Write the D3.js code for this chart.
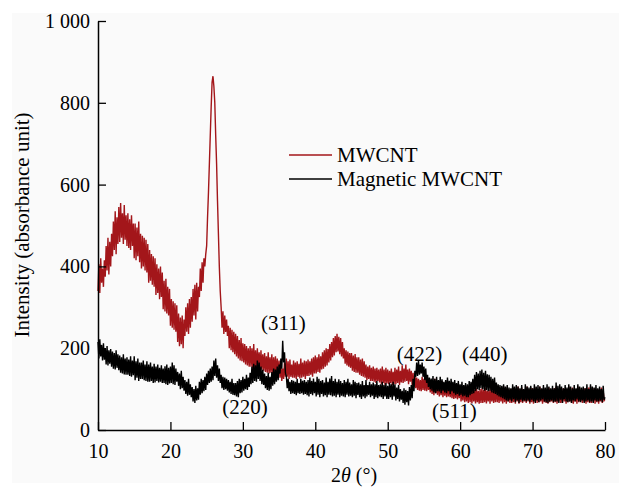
<!DOCTYPE html>
<html>
<head>
<meta charset="utf-8">
<script src="https://cdn.jsdelivr.net/npm/d3@7"></script>
<style>
  body { margin: 0; background: #ffffff; }
  svg { display: block; }
</style>
</head>
<body>
<div id="chart"></div>
<script>
// 2-theta grid: 10 to 80 degrees, every 0.125 degree
const angleStart = 10, angleStep = 0.125;

// MWCNT intensity (8 values per degree, one row per degree)
const mwcnt = [
  340,405,335,420,360,395,350,415,
  375,450,390,470,380,460,400,480,
  425,510,440,535,430,520,455,545,
  460,555,470,530,455,550,465,525,
  450,530,445,515,440,525,450,505,
  420,505,415,495,425,510,410,480,
  395,475,400,470,390,465,385,455,
  360,440,365,430,355,425,350,420,
  330,405,335,395,320,400,325,385,
  295,365,290,370,285,350,280,345,
  255,320,250,315,245,310,240,305,
  215,285,205,275,210,280,200,270,
  230,300,240,310,235,320,250,325,
  265,345,280,355,270,360,290,350,
  325,395,340,410,360,420,400,430,
  450,520,580,650,720,790,850,865,
  840,800,720,650,560,480,400,340,
  300,250,290,235,280,240,270,230,
  255,200,250,195,245,190,240,185,
  235,180,230,175,220,170,225,168,
  212,165,210,160,205,158,200,155,
  205,155,200,150,210,150,195,148,
  200,150,190,145,195,148,185,145,
  188,142,180,140,190,138,178,140,
  185,135,178,138,180,132,175,135,
  170,128,160,120,150,125,165,130,
  175,130,168,125,172,130,160,128,
  170,128,165,125,168,130,162,126,
  175,128,165,130,170,125,168,132,
  172,132,168,135,175,130,178,138,
  182,138,178,142,185,140,180,148,
  190,150,195,155,200,158,198,165,
  210,170,215,178,225,182,230,190,
  235,192,228,185,225,180,215,175,
  200,162,195,158,192,155,188,152,
  188,145,182,142,186,140,178,140,
  178,135,172,132,175,130,168,128,
  160,122,155,125,158,120,152,120,
  155,118,150,115,152,120,148,116,
  150,112,155,115,148,110,152,114,
  148,112,145,115,150,110,142,112,
  152,112,148,115,155,110,145,116,
  158,115,150,118,160,120,148,112,
  150,118,145,110,140,105,135,102,
  128,98,125,96,122,95,130,98,
  125,96,128,95,122,98,118,92,
  122,88,118,85,125,90,115,86,
  118,82,115,85,120,80,112,84,
  112,80,115,82,108,80,110,78,
  110,76,108,78,112,75,105,78,
  105,70,100,72,108,68,102,70,
  100,66,105,68,98,65,102,70,
  98,65,102,68,96,64,100,66,
  102,66,98,68,104,65,96,70,
  98,64,102,70,96,66,100,68,
  104,68,98,66,102,70,96,65,
  106,68,100,64,104,70,98,66,
  100,66,104,68,98,64,102,70,
  106,64,100,68,104,66,98,70,
  98,66,106,70,100,64,104,68,
  102,64,98,70,104,66,100,68,
  106,70,100,64,102,68,98,66,
  98,64,104,68,100,70,96,66,
  102,68,106,64,98,70,104,66,
  96,66,102,70,98,64,100,68,
  106,70,98,66,104,64,100,70,
  100,64,106,68,98,70,102,66,
  96,70,102,64,100,68,104,66,
  106,66,98,70,102,64,100,68,
  100,64,98,70,104,66,96,72,
  75
];

// Magnetic MWCNT intensity (8 values per degree, one row per degree)
const magnetic = [
  215,175,222,180,208,170,212,172,
  200,160,205,158,195,162,198,155,
  192,150,188,148,195,152,185,146,
  182,140,178,138,185,136,175,135,
  178,135,172,132,180,130,170,134,
  180,122,168,128,175,120,165,125,
  165,125,170,122,160,120,168,118,
  160,118,165,120,155,115,162,116,
  155,120,160,116,152,118,158,115,
  150,115,156,112,160,110,152,114,
  155,115,165,112,158,110,150,118,
  142,108,138,100,145,102,130,96,
  122,88,118,84,125,86,112,80,
  105,70,100,66,108,72,102,74,
  118,86,125,90,122,95,130,98,
  138,110,145,115,150,118,155,122,
  170,132,175,128,158,120,150,115,
  135,102,130,98,128,100,125,96,
  122,92,118,88,125,86,115,85,
  115,82,120,80,125,90,122,92,
  130,96,125,100,135,98,128,105,
  140,112,155,115,162,120,158,118,
  170,125,165,120,155,112,148,110,
  138,102,132,98,140,96,130,100,
  142,108,150,112,148,118,155,122,
  160,138,175,150,218,165,190,140,
  132,102,125,95,118,88,122,90,
  120,88,118,85,125,90,115,88,
  125,90,120,86,122,88,118,85,
  122,82,128,88,120,85,126,90,
  118,82,130,86,125,80,120,88,
  122,82,116,85,128,80,118,86,
  126,85,132,82,120,84,125,80,
  118,86,124,80,120,84,115,82,
  122,80,118,86,125,82,116,84,
  112,80,122,84,118,78,115,86,
  116,80,112,76,120,82,110,78,
  122,82,110,86,118,80,112,84,
  116,76,112,80,120,78,110,82,
  112,80,118,76,110,82,115,76,
  108,76,116,80,112,74,118,82,
  112,72,104,76,110,70,100,74,
  96,66,102,62,98,68,95,60,
  105,72,110,78,125,95,145,130,
  165,132,170,135,160,138,165,130,
  155,122,150,115,135,105,128,100,
  126,96,132,92,125,90,130,95,
  122,94,130,90,124,96,118,92,
  122,90,128,95,120,88,125,94,
  118,90,122,86,115,88,120,84,
  112,86,118,82,110,84,115,80,
  112,80,120,85,118,88,125,90,
  135,95,142,100,138,98,145,102,
  148,100,140,96,145,98,136,95,
  135,96,130,92,125,90,128,88,
  116,85,112,82,110,80,108,78,
  112,75,106,72,110,70,104,74,
  102,70,112,75,106,68,110,72,
  106,66,102,74,110,70,100,72,
  112,70,106,72,104,68,108,74,
  102,70,112,66,106,72,110,68,
  106,72,102,75,110,70,104,68,
  112,66,106,70,102,72,108,68,
  102,70,116,70,108,66,112,74,
  106,66,102,75,110,70,104,68,
  112,70,106,66,102,72,110,70,
  102,75,112,70,106,68,104,72,
  106,66,102,70,112,72,100,68,
  112,70,106,66,104,72,110,70,
  102,70,106,72,100,68,108,74,
  80
];

const xTicks = [10, 20, 30, 40, 50, 60, 70, 80];
const yTicks = [0, 200, 400, 600, 800, 1000];

const seriesNames = ["MWCNT", "Magnetic MWCNT"];
const seriesColors = ["#a3161a", "#000000"];

// Peak labels: [text, 2theta, intensity]
const peakLabels = [
  ["(220)", 30.3, 38],
  ["(311)", 35.6, 245],
  ["(422)", 54.4, 168],
  ["(511)", 59.2, 30],
  ["(440)", 63.4, 168]
];

// pick the first serif face that is really installed
function pickFont(candidates) {
    const ctx = document.createElement("canvas").getContext("2d");
    const sample = "Intensity (absorbance) 0123456789 MWg";
    ctx.font = "40px monospace";
    const base = ctx.measureText(sample).width;
    for (const f of candidates) {
        ctx.font = `40px "${f}", monospace`;
        if (Math.abs(ctx.measureText(sample).width - base) > 0.5) return `"${f}"`;
    }
    return "serif";
}
const fontFamily = pickFont(["Liberation Serif", "Times New Roman", "Tinos", "Times",
    "Nimbus Roman", "Nimbus Roman No9 L", "FreeSerif", "DejaVu Serif", "Noto Serif"]);

const width = 619, height = 489;
const margin = { left: 98, right: 14, top: 21, bottom: 59 };

const svg = d3.select("#chart").append("svg")
    .attr("width", width)
    .attr("height", height)
    .style("font-family", fontFamily);

// faint grey panel behind the figure
svg.append("rect")
    .attr("x", 12).attr("y", 13)
    .attr("width", width - 12).attr("height", height - 19)
    .attr("fill", "#fafafa");

const x = d3.scaleLinear()
    .domain([10, 80])
    .range([margin.left, width - margin.right]);

const y = d3.scaleLinear()
    .domain([0, 1000])
    .range([height - margin.bottom, margin.top]);

const line = d3.line()
    .x((d, i) => x(angleStart + i * angleStep))
    .y(d => y(d));

// Traces: MWCNT under, magnetic on top
[mwcnt, magnetic].forEach((data, k) => {
    svg.append("path")
        .datum(data)
        .attr("d", line)
        .attr("fill", "none")
        .attr("stroke", seriesColors[k])
        .attr("stroke-width", 1.4);
});

// Axes (ticks pointing inward)
const xAxis = svg.append("g")
    .attr("transform", `translate(0,${y(0)})`)
    .call(d3.axisBottom(x).tickValues(xTicks).tickSize(-8).tickSizeOuter(0).tickPadding(14));

const yAxis = svg.append("g")
    .attr("transform", `translate(${x(10)},0)`)
    .call(d3.axisLeft(y).tickValues(yTicks).tickSize(-8).tickSizeOuter(0).tickPadding(8)
        .tickFormat(d => d === 1000 ? "1 000" : d));

[xAxis, yAxis].forEach(g => {
    g.attr("font-family", null);
    g.select(".domain").attr("stroke", "#000").attr("stroke-width", 1.5);
    g.selectAll(".tick line").attr("stroke", "#000").attr("stroke-width", 1.3);
    g.selectAll(".tick text")
        .attr("fill", "#000")
        .style("font-family", fontFamily)
        .style("font-size", "20px");
});

// Axis titles
const xTitle = svg.append("text")
    .attr("x", 354)
    .attr("y", 482)
    .attr("text-anchor", "middle")
    .style("font-size", "20px");
xTitle.append("tspan").text("2");
xTitle.append("tspan").attr("font-style", "italic").text("θ");
xTitle.append("tspan").text(" (°)");

svg.append("text")
    .attr("transform", "translate(29,225) rotate(-90)")
    .attr("text-anchor", "middle")
    .style("font-size", "21px")
    .text("Intensity (absorbance unit)");

// Peak annotations
svg.selectAll(".peak")
    .data(peakLabels)
    .enter().append("text")
    .attr("class", "peak")
    .attr("x", d => x(d[1]))
    .attr("y", d => y(d[2]))
    .attr("text-anchor", "middle")
    .style("font-size", "21px")
    .text(d => d[0]);

// Legend
const legend = svg.append("g")
    .attr("transform", "translate(289,155)");

seriesNames.forEach((name, i) => {
    legend.append("line")
        .attr("x1", 0).attr("x2", 43)
        .attr("y1", i * 24).attr("y2", i * 24)
        .attr("stroke", seriesColors[i])
        .attr("stroke-width", 1.5);
    legend.append("text")
        .attr("x", 48)
        .attr("y", i * 24 + 7)
        .style("font-size", "21px")
        .text(name);
});
</script>
</body>
</html>
